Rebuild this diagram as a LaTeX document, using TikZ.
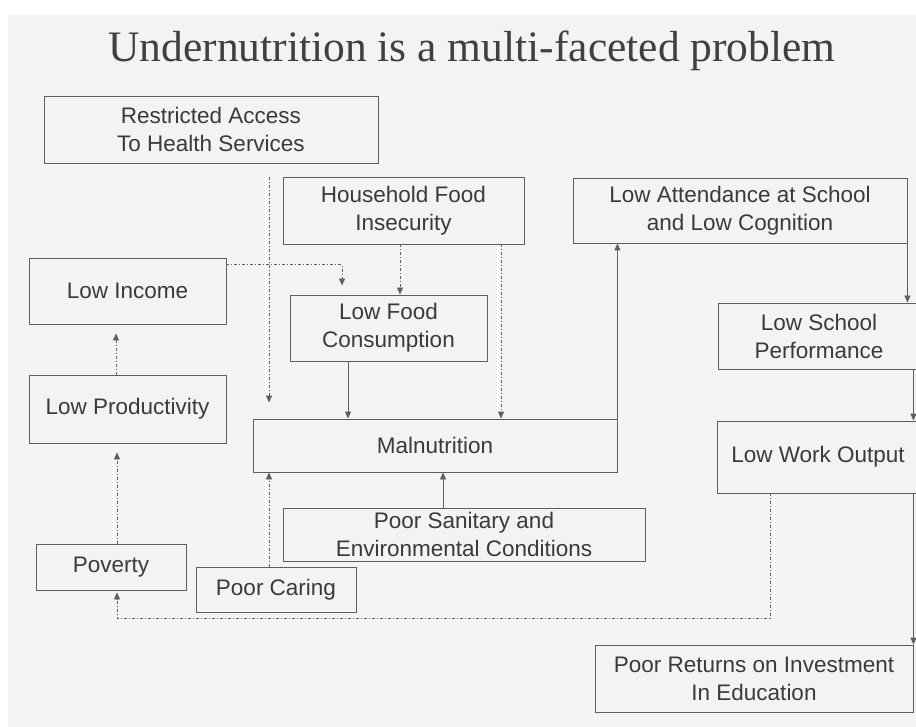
\documentclass[tikz,border=0pt]{standalone}
\usepackage{fontspec}
\setmainfont{Liberation Sans}
\newfontfamily\titlefont{Liberation Serif}
\usetikzlibrary{arrows.meta}

\definecolor{paper}{HTML}{F2F3F4}
\definecolor{edge}{HTML}{5E5E5E}
\definecolor{ink}{HTML}{3A3A3A}
\definecolor{headink}{HTML}{404040}

\tikzset{
  box/.style={draw=edge, line width=0.9pt, inner sep=0pt, align=center, text=ink,
    font=\fontsize{22.5}{28}\selectfont},
  link/.style={draw=edge, line width=0.9pt, -{Triangle[length=7pt,width=6pt]}},
  chain/.style={link, dash pattern=on 3pt off 2pt on 1pt off 2pt},
}

\begin{document}
\begin{tikzpicture}[x=1pt,y=-1pt]
  \useasboundingbox (0,0) rectangle (916,727);
  \fill[white] (0,0) rectangle (916,727);
  \fill[paper] (8,15) rectangle (916,727);

  \node[font=\titlefont\fontsize{43.5}{50}\selectfont, text=headink, anchor=base] (title) at (472,62) {Undernutrition is a multi-faceted problem};

  % causes
  \node[box, minimum width=334pt, minimum height=67pt] (rest) at (211,129.5) {Restricted Access\\To Health Services};
  \node[box, minimum width=241pt, minimum height=67pt] (hfi) at (403.5,210.5) {Household Food\\Insecurity};
  \node[box, minimum width=197pt, minimum height=66pt] (inc) at (127.5,291) {Low Income};
  \node[box, minimum width=197pt, minimum height=66pt] (lfc) at (388.5,328) {Low Food\\Consumption};
  \node[box, minimum width=197pt, minimum height=68pt] (prod) at (127.5,409) {Low Productivity};
  \node[box, minimum width=364pt, minimum height=53pt] (mal) at (435,445.5) {Malnutrition};
  \node[box, minimum width=362pt, minimum height=53pt] (san) at (464,534.5) {Poor Sanitary and\\Environmental Conditions};
  \node[box, minimum width=150pt, minimum height=46pt] (pov) at (111,567) {Poverty};
  \node[box, minimum width=160pt, minimum height=45pt] (car) at (276,589.5) {Poor Caring};

  % consequences
  \node[box, minimum width=334pt, minimum height=65pt] (att) at (740,210.5) {Low Attendance at School\\and Low Cognition};
  \node[box, minimum width=202pt, minimum height=66pt] (lsp) at (819,336) {Low School\\Performance};
  \node[box, minimum width=202pt, minimum height=72pt] (lwo) at (818,457) {Low Work Output};
  \node[box, minimum width=318pt, minimum height=67pt] (ret) at (754,678.5) {Poor Returns on Investment\\In Education};

  % into malnutrition
  \draw[chain] ([xshift=58pt,yshift=-14pt]rest.south) -- ([xshift=-166pt,yshift=16pt]mal.north);
  \draw[chain] ([xshift=-3.5pt]hfi.south) -- ([xshift=-3.5pt]hfi.south |- lfc.north);
  \draw[chain] ([xshift=97.5pt]hfi.south) -- ([xshift=97.5pt]hfi.south |- mal.north);
  \draw[link] ([xshift=-40.5pt]lfc.south) -- ([xshift=-40.5pt]lfc.south |- mal.north);
  \draw[chain] ([xshift=-7pt]car.north) -- ([xshift=-7pt]car.north |- mal.south);
  \draw[link] ([xshift=-21pt]san.north) -- ([xshift=-21pt]san.north |- mal.south);

  % income loop
  \draw[chain] ([yshift=-7pt]inc.north east) -| ([xshift=-46.5pt,yshift=9pt]lfc.north);
  \draw[chain] ([xshift=-11.5pt]prod.north) -- ([xshift=-11.5pt,yshift=-9pt]inc.south);
  \draw[chain] ([xshift=6pt]pov.north) -- ([xshift=-10.5pt,yshift=-9pt]prod.south);

  % school and work
  \draw[link] (mal.north east) -- (mal.north east |- att.south);
  \draw[link] (att.south east) -- (att.south east |- lsp.north);
  \draw[link] ([xshift=-7pt]lsp.south east) -- ([xshift=-7pt]lsp.south east |- lwo.north);
  \draw[link] ([xshift=-6pt]lwo.south east) -- ([xshift=-6pt]lwo.south east |- ret.north);
  \draw[chain] ([xshift=-48pt]lwo.south) -- ++(0,125) -| ([xshift=6pt,yshift=-2pt]pov.south);
\end{tikzpicture}
\end{document}
